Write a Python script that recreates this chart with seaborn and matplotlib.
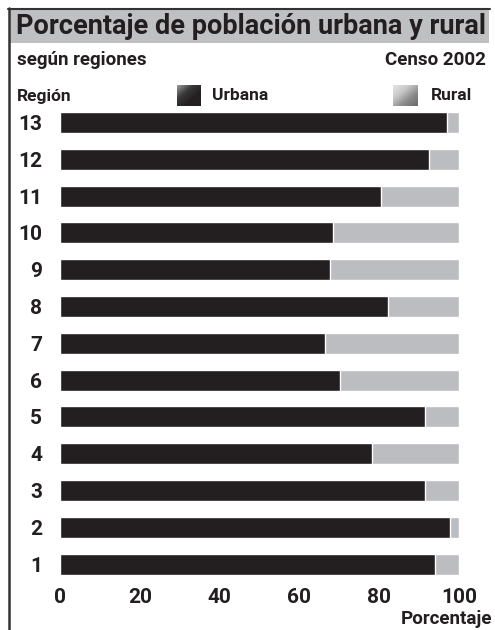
import matplotlib
matplotlib.use('Agg')
import matplotlib.pyplot as plt
from matplotlib.lines import Line2D
from matplotlib.patches import Rectangle
from matplotlib.colors import LinearSegmentedColormap
import seaborn as sns
import numpy as np
import pandas as pd

# Censo 2002 - porcentaje de poblacion urbana por region (rural = resto)
regiones = ['13', '12', '11', '10', '9', '8', '7', '6', '5', '4', '3', '2', '1']
urbana = [96.9, 92.6, 80.5, 68.4, 67.7, 82.1, 66.4, 70.3, 91.6, 78.1, 91.5, 97.7, 94.1]
total = [100] * len(regiones)
x_ticks = [0, 20, 40, 60, 80, 100]

DARK = '#231f20'
GREY = '#bcbdc0'
FONT = ['Roboto', 'DejaVu Sans']

sns.set_theme(style='white')
plt.rcParams['font.family'] = FONT
plt.rcParams['font.weight'] = 'bold'

df = pd.DataFrame({'Region': regiones, 'Urbana': urbana, 'Total': total})

W, H = 495, 630
fig = plt.figure(figsize=(W / 100, H / 100), dpi=100)

def fx(px):
    return px / W

def fy(py):
    return 1 - py / H

# header box
fig.patches.append(Rectangle((fx(9), fy(43)), fx(489) - fx(9), fy(8) - fy(43),
                             transform=fig.transFigure, facecolor='#bfc0c2',
                             edgecolor='none', zorder=0))
fig.lines.append(Line2D([fx(8), fx(490)], [fy(8.5), fy(8.5)], transform=fig.transFigure,
                        color='#333333', lw=1.5))
fig.lines.append(Line2D([fx(9), fx(9)], [fy(8), fy(630)], transform=fig.transFigure,
                        color='#333333', lw=1.8))

def txt(x, y, s, size, ha='left'):
    fig.text(fx(x), fy(y), s, fontsize=size, fontweight='bold', color=DARK,
             va='center', ha=ha)

txt(16, 26, 'Porcentaje de población urbana y rural', 19.5)
txt(17, 60, 'según regiones', 13.5)
txt(486, 60, 'Censo 2002', 13.5, ha='right')
txt(17, 97, 'Región', 12.5)
txt(212, 96, 'Urbana', 12.5)
txt(431, 96, 'Rural', 12.5)
txt(492, 619, 'Porcentaje', 13.5, ha='right')

# legend icons with a gradient
def grad_icon(x0, y0, x1, y1, cmap):
    iax = fig.add_axes([fx(x0), fy(y1), fx(x1) - fx(x0), fy(y0) - fy(y1)])
    g = np.add.outer(np.linspace(0, 1, 30), np.linspace(0, 1, 30)) / 2
    iax.imshow(g, cmap=cmap, aspect='auto', interpolation='bilinear')
    iax.axis('off')

cm_urb = LinearSegmentedColormap.from_list('u', ['#9a9a9a', '#3a3a3a', DARK, DARK])
cm_rur = LinearSegmentedColormap.from_list('r', ['#e6e6e6', '#c8c8c8', '#8a8a8a', '#6a6a6a'])
grad_icon(177, 85, 201, 106, cm_urb)
grad_icon(393, 85, 418, 106, cm_rur)

# bars
ax = fig.add_axes([fx(60), fy(582.5), fx(459) - fx(60), fy(104) - fy(582.5)])
sns.barplot(data=df, y='Region', x='Total', order=regiones, color=GREY,
            saturation=1, width=0.57, ax=ax)
sns.barplot(data=df, y='Region', x='Urbana', order=regiones, color=DARK,
            saturation=1, width=0.57, ax=ax)

ax.set_xlim(0, 100)
ax.set_ylim(len(regiones) - 0.5, -0.5)
ax.set_xticks(x_ticks)
ax.set_xticklabels([str(t) for t in x_ticks])
ax.set_xlabel('')
ax.set_ylabel('')
ax.tick_params(axis='both', length=0, labelsize=15, labelcolor=DARK)
ax.tick_params(axis='y', pad=13)
ax.tick_params(axis='x', pad=4)
for lab in ax.get_xticklabels() + ax.get_yticklabels():
    lab.set_fontweight('bold')
sns.despine(ax=ax, left=True, bottom=True)
ax.patch.set_alpha(0)

fig.savefig('out.png', dpi=100)
